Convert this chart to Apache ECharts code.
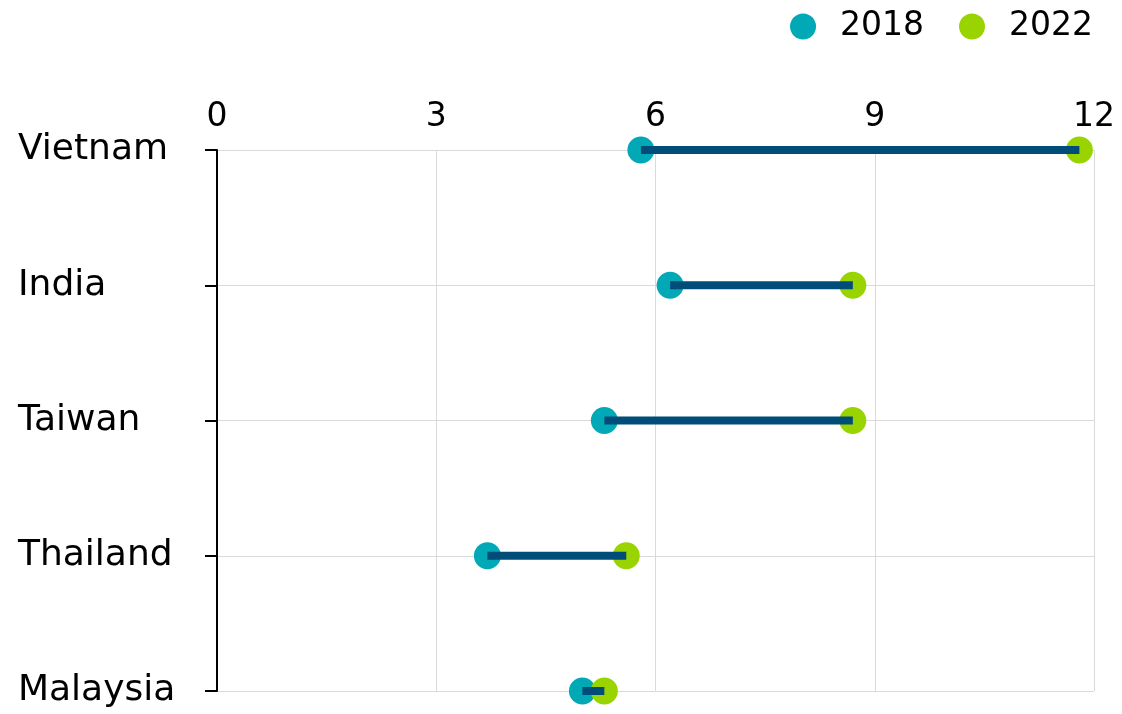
<!DOCTYPE html>
<html>
<head>
<meta charset="utf-8">
<script src="https://cdn.jsdelivr.net/npm/echarts@6/dist/echarts.min.js"></script>
<style>
	html, body { margin: 0; padding: 0; background: #fff; }
	#chart { width: 1122px; height: 714px; }
</style>
</head>
<body>
<div id="chart"></div>
<script>
// 国家
const countries = ['Vietnam', 'India', 'Taiwan', 'Thailand', 'Malaysia'];
// 数值
const values2018 = [5.8, 6.2, 5.3, 3.7, 5.0];
const values2022 = [11.8, 8.7, 8.7, 5.6, 5.3];
// 刻度
const xTicks = [0, 3, 6, 9, 12];

const font = 'DejaVu Sans';
let myChart = echarts.init(document.getElementById('chart'));

myChart.setOption({
	animation: false,
	legend: {
		data: ['2018', '2022'],
		right: 24,
		top: 5,
		itemWidth: 26,
		itemHeight: 26,
		itemGap: 35,
		icon: 'circle',
		textStyle: { fontFamily: font, fontSize: 33, color: '#000', padding: [0, 0, 0, 19] }
	},
	grid: { left: 217, right: 28, top: 150, bottom: 23 },
	xAxis: {
		type: 'value',
		position: 'top',
		min: xTicks[0],
		max: xTicks[xTicks.length - 1],
		interval: 3,
		axisLine: { show: false },
		axisTick: { show: false },
		axisLabel: { fontFamily: font, fontSize: 33, color: '#000', margin: 16 },
		splitLine: { show: true, lineStyle: { color: '#d9d9d9', width: 1 } }
	},
	yAxis: {
		type: 'category',
		inverse: true,
		boundaryGap: false,
		data: countries,
		axisLine: { show: true, lineStyle: { color: '#000', width: 2 } },
		axisTick: { show: true, length: 12, lineStyle: { color: '#000', width: 2 } },
		axisLabel: { fontFamily: font, fontSize: 36, color: '#000', align: 'left', margin: 199, padding: [8, 0, 0, 0] },
		splitLine: { show: true, lineStyle: { color: '#d9d9d9', width: 1 } }
	},
	series: [
		{
			name: '2018',
			type: 'scatter',
			symbolSize: 27,
			itemStyle: { color: '#00a9b5', opacity: 1 },
			z: 2,
			data: values2018.map((v, i) => [v, i])
		},
		{
			name: '2022',
			type: 'scatter',
			symbolSize: 27,
			itemStyle: { color: '#99d400', opacity: 1 },
			z: 3,
			data: values2022.map((v, i) => [v, i])
		},
		{
			// 连接线
			type: 'custom',
			z: 4,
			data: values2018.map((v, i) => [v, values2022[i], i]),
			renderItem: function(params, api) {
				const p1 = api.coord([api.value(0), api.value(2)]);
				const p2 = api.coord([api.value(1), api.value(2)]);
				return {
					type: 'line',
					shape: { x1: p1[0], y1: p1[1], x2: p2[0], y2: p2[1] },
					style: { stroke: '#004d7a', lineWidth: 8, lineCap: 'butt' }
				};
			}
		}
	]
});
</script>
</body>
</html>
